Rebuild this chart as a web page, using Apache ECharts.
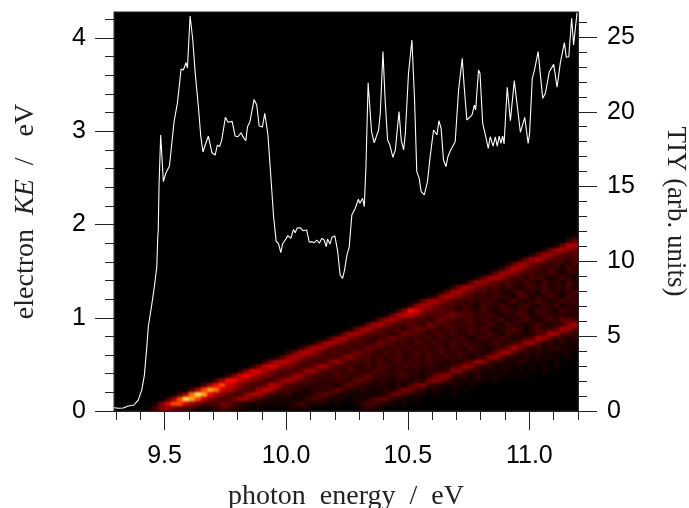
<!DOCTYPE html>
<html><head><meta charset="utf-8">
<style>html,body{margin:0;padding:0;background:#fff}#c{width:689px;height:508px}
canvas[data-zr-dom-id="zr_1"]{filter:blur(1.3px);clip-path:inset(12px 111px 97px 114px)}
</style>
<script src="https://cdn.jsdelivr.net/npm/echarts@6/dist/echarts.min.js"></script>
</head><body><div id="c"></div>
<script>
const xMajorTicks=[9.5,10,10.5,11];
const xMinorTicks=[9.3,9.4,9.6,9.7,9.8,9.9,10.1,10.2,10.3,10.4,10.6,10.7,10.8,10.9,11.1,11.2];
const keMajorTicks=[0,1,2,3,4];
const keMinorTicks=[.2,.4,.6,.8,1.2,1.4,1.6,1.8,2.2,2.4,2.6,2.8,3.2,3.4,3.6,3.8,4.2];
const tiyMajorTicks=[0,5,10,15,20,25];
const tiyMinorTicks=[1,2,3,4,6,7,8,9,11,12,13,14,16,17,18,19,21,22,23,24,26];
// photon energy (eV), TIY (arb. units)
const tiyPoints=[[9.292,.22],[9.31,.18],[9.33,.2],[9.351,.33],[9.374,.4],[9.392,.74],[9.406,1.4],[9.417,2.4],[9.427,4.3],[9.433,5.63],[9.447,7.08],[9.458,8.31],[9.468,9.64],[9.472,11.65],[9.474,12.1],[9.477,15],[9.484,18.45],[9.495,15.33],[9.505,15.89],[9.52,16.38],[9.539,19.34],[9.553,20.61],[9.558,20.52],[9.568,22.86],[9.577,22.79],[9.588,23.28],[9.594,22.93],[9.605,26.4],[9.616,24.8],[9.626,22.57],[9.639,20.34],[9.649,18.33],[9.658,17.31],[9.668,17.83],[9.68,18.38],[9.686,18.33],[9.695,17.26],[9.708,17.11],[9.717,17.78],[9.726,17.67],[9.735,18.11],[9.742,18.16],[9.75,19.63],[9.761,19.3],[9.778,19.36],[9.79,18.38],[9.802,18.33],[9.814,18.6],[9.824,18.29],[9.834,18.07],[9.841,19],[9.851,19.34],[9.868,20.83],[9.879,20.45],[9.889,19.05],[9.902,18.98],[9.912,19.9],[9.925,18.45],[9.937,15.66],[9.948,13.03],[9.959,11.32],[9.968,11.21],[9.978,10.58],[9.985,11.16],[9.996,11.43],[10.007,11.72],[10.019,11.54],[10.03,12.14],[10.037,11.92],[10.045,12.23],[10.058,12.25],[10.069,12.05],[10.084,12.1],[10.095,11.28],[10.106,11.32],[10.116,11.25],[10.126,11.43],[10.136,11.21],[10.147,11.54],[10.156,11.43],[10.165,10.98],[10.17,11.5],[10.18,11.16],[10.188,11.61],[10.2,11.7],[10.211,10.76],[10.222,9.09],[10.232,8.87],[10.24,9.42],[10.25,10.43],[10.259,10.94],[10.27,13.1],[10.284,13.55],[10.297,14.15],[10.303,13.88],[10.314,14.22],[10.321,13.66],[10.328,16.33],[10.337,21.94],[10.351,18.67],[10.362,17.93],[10.38,18.78],[10.387,19.9],[10.398,24.02],[10.407,20.79],[10.417,18.11],[10.425,17.85],[10.439,16.96],[10.449,17.45],[10.464,20.01],[10.473,18.11],[10.483,17.45],[10.49,18.56],[10.503,22.57],[10.517,24.8],[10.528,20.79],[10.537,16],[10.547,15.55],[10.555,14.66],[10.568,14.44],[10.581,15.33],[10.592,17],[10.606,18.78],[10.62,18.45],[10.628,19.4],[10.637,18.9],[10.647,16.78],[10.657,16.33],[10.665,17],[10.675,17.4],[10.683,17.33],[10.695,18],[10.709,21.46],[10.724,23.57],[10.732,21.68],[10.743,19.45],[10.764,19.78],[10.774,20.45],[10.779,20.12],[10.791,22.79],[10.797,22.57],[10.808,19.23],[10.819,18.45],[10.831,17.56],[10.839,18.33],[10.851,17.71],[10.86,18.33],[10.868,17.71],[10.876,18.38],[10.883,17.89],[10.89,18.38],[10.896,17.85],[10.909,21.64],[10.922,19.4],[10.938,22.08],[10.946,22.01],[10.963,18.63],[10.981,19.63],[10.995,17.89],[11.001,18.56],[11.012,22.24],[11.021,22.79],[11.026,22.68],[11.036,24.02],[11.055,20.9],[11.066,21.24],[11.082,22.68],[11.1,23.17],[11.114,21.64],[11.127,23.24],[11.144,24.62],[11.152,23.64],[11.162,23.68],[11.174,26.25],[11.182,24.46],[11.196,26.62]];
// electron intensity (hex digit 0..f), top row KE 1.85-1.90 eV, bottom row KE 0-0.05 eV;
// columns 0.025 eV wide starting at 9.40 eV; spaces only group 12 columns
const intensityRows=[
"000000000000 000000000000 000000000000 000000000000 000000000000 000000000001",
"000000000000 000000000000 000000000000 000000000000 000000000000 000000000024",
"000000000000 000000000000 000000000000 000000000000 000000000000 000000001488",
"000000000000 000000000000 000000000000 000000000000 000000000000 000000147865",
"000000000000 000000000000 000000000000 000000000000 000000000000 000014775434",
"000000000000 000000000000 000000000000 000000000000 000000000000 001478643323",
"000000000000 000000000000 000000000000 000000000000 000000000000 147754323223",
"000000000000 000000000000 000000000000 000000000000 000000000002 587533232132",
"000000000000 000000000000 000000000000 000000000000 000000000147 764332232122",
"000000000000 000000000000 000000000000 000000000000 000000014786 433233212321",
"000000000000 000000000000 000000000000 000000000000 000001477543 322321322132",
"000000000000 000000000000 000000000000 000000000000 000258754332 321232312231",
"000000000000 000000000000 000000000000 000000000000 014786433232 123221322123",
"000000000000 000000000000 000000000000 000000000001 268754323232 213312232132",
"000000000000 000000000000 000000000000 000000000147 865332322321 232123212323",
"000000000000 000000000000 000000000000 000000002687 543323213223 212321323122",
"000000000000 000000000000 000000000000 00000026ba75 443323223212 323213221322",
"000000000000 000000000000 000000000000 000014899643 334543322321 223312322212",
"000000000000 000000000000 000000000000 001478644332 354323323223 122321232443",
"000000000000 000000000000 000000000000 147864334325 433232322321 322123212368",
"000000000000 000000000000 000000000014 786433323543 323322323212 232123234874",
"000000000000 000000000000 000000001478 643332354332 332322322321 322123487432",
"000000000000 000000000000 000000147864 332335432323 232232123223 212348742212",
"000000000000 000000000000 000014786433 323543232332 322323221232 234774221211",
"000000000000 000000000000 002588643332 354323323232 232322322123 486322122111",
"000000000000 000000000000 258975333335 433232322323 232232221247 742212111110",
"000000000000 000000000014 787543333564 332323322323 223222123674 221211111010",
"000000000000 000000002589 864333367433 232322323223 221223476322 112111101000",
"000000000000 000000259a96 543347743332 232332232322 212347632211 111010101000",
"000000000000 000026aa8643 334774333233 223322322212 223663221111 101010100000",
"000000000000 0026ab975433 477433323322 343222232212 466322121111 010100000000",
"000000000000 37bb97543347 864332223224 432221221215 653211111010 000000000000",
"000000000037 bca864334885 332222221343 221211213563 211110100000 000000000000",
"0000000038ce da8643379853 322122234321 211121355321 110101000000 000000000000",
"00000038dfeb 864336885322 211123432111 111124532110 100100000000 000000000000",
"000027cfec96 433577432111 111233211101 113442110100 000000000000 000000000000",
"0015acca7533 355321111111 123211101001 233211010000 000000000000 000000000000",
"013675432111 233211010000 111100000000 121100000000 000000000000 000000000000"
];
const colourRamp=['#000000','#180000','#300000','#480000','#5e0000','#720000','#860000','#9a0000','#ac0000','#be0000','#d80000','#f40800','#ff4000','#ff7000','#ffa020','#ffe050'];
const xLabelText={9.5:'9.5',10:'10.0',10.5:'10.5',11:'11.0'};

const rows=intensityRows.map(r=>r.replace(/ /g,''));
const nRows=rows.length, nCols=rows[0].length;
const cells=[];
rows.forEach((r,i)=>{for(let c=0;c<r.length;c++){const v=parseInt(r[c],16);if(v>0)cells.push([c,nRows-1-i,v]);}});
const colCats=Array.from({length:nCols},(_,i)=>String(i));
const rowCats=Array.from({length:nRows},(_,i)=>String(i));

const ink='#222';
const sans='"Liberation Sans",Arial,sans-serif';
const serif='"Liberation Serif","DejaVu Serif",serif';
const tickLabel={fontFamily:sans,fontSize:25,color:'#000'};
const titleRich={a:{fontFamily:serif,fontSize:28,color:'#222'},b:{fontFamily:serif,fontSize:28,fontStyle:'italic',color:'#222'},c:{fontFamily:serif,fontSize:27,color:'#222'}};

const chart=echarts.init(document.getElementById('c'),null,{renderer:'canvas'});
chart.setOption({
 animation:false,
 backgroundColor:'#fff',
 grid:[
  {left:114,right:111,top:12,bottom:97,show:true,backgroundColor:'#000',borderColor:ink,borderWidth:1,outerBoundsMode:'none'},
  {left:140.3,right:111,top:233.8,bottom:97,show:false,outerBoundsMode:'none'}
 ],
 visualMap:{show:false,type:'continuous',min:0,max:15,dimension:2,seriesIndex:0,inRange:{color:colourRamp}},
 xAxis:[
  {type:'value',gridIndex:0,position:'bottom',min:9.292,max:11.2,splitLine:{show:false},
   axisLine:{show:true,onZero:false,lineStyle:{color:ink}},
   axisTick:{show:true,length:19,customValues:xMajorTicks,lineStyle:{color:ink}},
   axisLabel:{...tickLabel,margin:33,customValues:xMajorTicks,formatter:v=>xLabelText[v]},
   name:'{a|photon  energy  /  eV}',nameLocation:'middle',nameGap:72,nameTextStyle:{rich:titleRich}},
  {type:'value',gridIndex:0,position:'bottom',min:9.292,max:11.2,splitLine:{show:false},
   axisLine:{show:false},axisLabel:{show:false},
   axisTick:{show:true,length:9,customValues:xMinorTicks,lineStyle:{color:ink}}},
  {type:'category',gridIndex:1,data:colCats,show:false}
 ],
 yAxis:[
  {type:'value',gridIndex:0,position:'left',min:0,max:4.279,splitLine:{show:false},
   axisLine:{show:true,onZero:false,lineStyle:{color:ink}},
   axisTick:{show:true,length:19,customValues:keMajorTicks,lineStyle:{color:ink}},
   axisLabel:{...tickLabel,margin:28,customValues:keMajorTicks,formatter:v=>String(v)},
   name:'{a|electron  }{b|KE}{a|  /   eV}',nameLocation:'middle',nameGap:74,nameTextStyle:{rich:titleRich}},
  {type:'value',gridIndex:0,position:'left',min:0,max:4.279,splitLine:{show:false},
   axisLine:{show:false},axisLabel:{show:false},
   axisTick:{show:true,length:9,customValues:keMinorTicks,lineStyle:{color:ink}}},
  {type:'value',gridIndex:0,position:'right',min:0,max:26.67,splitLine:{show:false},
   axisLine:{show:true,onZero:false,lineStyle:{color:ink}},
   axisTick:{show:true,length:19,customValues:tiyMajorTicks,lineStyle:{color:ink}},
   axisLabel:{...tickLabel,margin:29,customValues:tiyMajorTicks,formatter:v=>String(v)},
   name:'{c|TIY (arb. units)}',nameLocation:'middle',nameRotate:-90,nameGap:84,nameTextStyle:{rich:titleRich}},
  {type:'value',gridIndex:0,position:'right',min:0,max:26.67,splitLine:{show:false},
   axisLine:{show:false},axisLabel:{show:false},
   axisTick:{show:true,length:9,customValues:tiyMinorTicks,lineStyle:{color:ink}}},
  {type:'category',gridIndex:1,data:rowCats,show:false}
 ],
 series:[
  {type:'heatmap',xAxisIndex:2,yAxisIndex:4,data:cells,zlevel:1,progressive:0,silent:true,emphasis:{disabled:true}},
  {type:'line',xAxisIndex:0,yAxisIndex:2,data:tiyPoints,zlevel:2,symbol:'none',silent:true,clip:true,
   lineStyle:{color:'#ffffff',width:1.1}}
 ]
});
</script></body></html>
